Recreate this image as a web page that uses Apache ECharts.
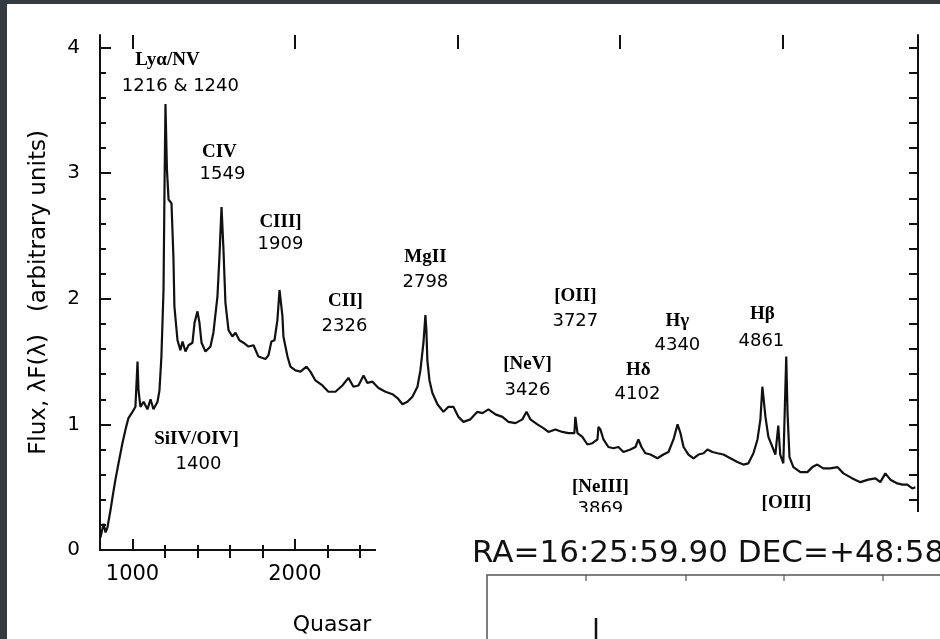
<!DOCTYPE html>
<html><head><meta charset="utf-8">
<script src="https://cdn.jsdelivr.net/npm/echarts@6/dist/echarts.min.js"></script>
<style>html,body{margin:0;padding:0;background:#fff}#c{width:940px;height:639px}</style>
</head><body><div id="c"></div>
<script>
// Quasar composite spectrum: wavelength (Angstrom) and flux (arbitrary units)
const wavelength = [803, 822, 834, 846, 865, 877, 895, 914, 938, 957,
  975, 1000, 1018, 1031, 1037, 1049, 1068, 1092, 1111, 1129,
  1154, 1166, 1178, 1191, 1197, 1203, 1212, 1222, 1240, 1252,
  1258, 1277, 1295, 1308, 1326, 1345, 1369, 1382, 1400, 1412,
  1425, 1449, 1480, 1498, 1523, 1535, 1548, 1560, 1572, 1591,
  1615, 1634, 1658, 1683, 1714, 1745, 1775, 1818, 1837, 1855,
  1874, 1892, 1905, 1923, 1929, 1954, 1972, 2003, 2034, 2071,
  2095, 2126, 2169, 2206, 2249, 2292, 2329, 2360, 2391, 2422,
  2446, 2477, 2514, 2557, 2600, 2631, 2662, 2692, 2723, 2754,
  2772, 2791, 2803, 2809, 2815, 2828, 2846, 2877, 2914, 2945,
  2975, 3006, 3037, 3080, 3123, 3154, 3191, 3234, 3277, 3314,
  3357, 3400, 3425, 3449, 3492, 3529, 3560, 3603, 3646, 3683,
  3720, 3726, 3739, 3769, 3800, 3831, 3862, 3868, 3880, 3899,
  3929, 3960, 3991, 4022, 4065, 4096, 4114, 4133, 4157, 4188,
  4231, 4268, 4299, 4330, 4355, 4373, 4392, 4422, 4453, 4484,
  4515, 4539, 4570, 4601, 4637, 4680, 4723, 4760, 4791, 4822,
  4847, 4865, 4877, 4896, 4914, 4939, 4957, 4975, 4987, 5006,
  5024, 5032, 5044, 5068, 5111, 5154, 5185, 5215, 5252, 5295,
  5339, 5376, 5431, 5480, 5529, 5573, 5603, 5634, 5665, 5708,
  5739, 5769, 5800, 5819];
const flux = [0.10, 0.21, 0.14, 0.18, 0.32, 0.42, 0.56, 0.69, 0.85, 0.96,
  1.05, 1.10, 1.14, 1.50, 1.27, 1.14, 1.18, 1.12, 1.20, 1.12,
  1.18, 1.27, 1.54, 2.07, 2.87, 3.55, 3.03, 2.79, 2.76, 2.33,
  1.94, 1.67, 1.59, 1.66, 1.58, 1.63, 1.65, 1.81, 1.90, 1.81,
  1.65, 1.58, 1.62, 1.73, 2.02, 2.33, 2.73, 2.39, 1.97, 1.75,
  1.70, 1.73, 1.67, 1.65, 1.62, 1.63, 1.54, 1.52, 1.55, 1.66,
  1.67, 1.83, 2.07, 1.86, 1.70, 1.54, 1.46, 1.43, 1.42, 1.46,
  1.42, 1.35, 1.31, 1.26, 1.26, 1.31, 1.37, 1.30, 1.31, 1.39,
  1.33, 1.34, 1.29, 1.26, 1.24, 1.21, 1.16, 1.18, 1.22, 1.30,
  1.43, 1.65, 1.87, 1.75, 1.51, 1.35, 1.25, 1.16, 1.10, 1.14,
  1.14, 1.06, 1.02, 1.04, 1.10, 1.09, 1.12, 1.08, 1.06, 1.02,
  1.01, 1.04, 1.10, 1.04, 1.00, 0.97, 0.94, 0.96, 0.94, 0.93,
  0.93, 1.06, 0.93, 0.90, 0.84, 0.85, 0.88, 0.98, 0.96, 0.88,
  0.82, 0.81, 0.82, 0.78, 0.80, 0.82, 0.88, 0.82, 0.77, 0.76,
  0.73, 0.76, 0.78, 0.88, 1.00, 0.93, 0.82, 0.76, 0.73, 0.76,
  0.77, 0.80, 0.78, 0.77, 0.76, 0.73, 0.70, 0.68, 0.69, 0.77,
  0.88, 1.04, 1.30, 1.06, 0.90, 0.82, 0.76, 0.99, 0.76, 0.69,
  1.54, 1.09, 0.74, 0.66, 0.62, 0.62, 0.66, 0.68, 0.65, 0.65,
  0.66, 0.61, 0.57, 0.54, 0.56, 0.57, 0.54, 0.61, 0.56, 0.53,
  0.52, 0.52, 0.49, 0.50];

// Tick values
const xLabelValues = [1000, 2000];
const xMajorTicks = [1000, 2000, 3000, 4000, 5000];
const xBottomMinorTicks = [1200, 1400, 1600, 1800, 2200, 2400];
const xTopMinorTicks = [1200, 1400, 1600, 1800, 2200, 2400, 2600, 2800, 3200, 3400, 3600, 3800, 4200, 4400, 4600, 4800, 5200, 5400, 5600];
const yLabelValues = [0, 1, 2, 3, 4];
const yMinorTicks = [0.2, 0.4, 0.6, 0.8, 1.2, 1.4, 1.6, 1.8, 2.2, 2.4, 2.6, 2.8, 3.2, 3.4, 3.6, 3.8];
const yRightTicks = [0.2, 0.4, 0.6, 0.8, 1.0, 1.2, 1.4, 1.6, 1.8, 2.0, 2.2, 2.4, 2.6, 2.8, 3.0, 3.2, 3.4, 3.6, 3.8, 4.0];

// Emission-line annotations: [text, kind, wavelength anchor, flux anchor]
const lineAnnotations = [
  ['Lyα/NV', 'name', 1215, 3.90], ['1216 & 1240', 'num', 1295, 3.69],
  ['CIV', 'name', 1535, 3.17], ['1549', 'num', 1554, 2.99],
  ['CIII]', 'name', 1911, 2.61], ['1909', 'num', 1911, 2.43],
  ['CII]', 'name', 2311, 1.98], ['2326', 'num', 2305, 1.78],
  ['MgII', 'name', 2803, 2.33], ['2798', 'num', 2803, 2.13],
  ['[OII]', 'name', 3726, 2.02], ['3727', 'num', 3726, 1.82],
  ['[NeV]', 'name', 3431, 1.48], ['3426', 'num', 3431, 1.27],
  ['Hδ', 'name', 4114, 1.43], ['4102', 'num', 4108, 1.24],
  ['Hγ', 'name', 4354, 1.82], ['4340', 'num', 4354, 1.63],
  ['Hβ', 'name', 4877, 1.88], ['4861', 'num', 4871, 1.66],
  ['SiIV/OIV]', 'name', 1394, 0.88], ['1400', 'num', 1406, 0.68],
  ['[NeIII]', 'name', 3880, 0.50], ['3869', 'num', 3880, 0.32],
  ['[OIII]', 'name', 5025, 0.37]
];

const ink = '#111111';
const xMin = 800, xMax = 5835, yMin = 0, yMax = 4.1;
const tickStyle = {color: ink, width: 2};

function xAx(pos, lineShow, ticks, len, labels) {
  return {
    type: 'value', min: xMin, max: xMax, position: pos,
    axisLine: {show: lineShow, lineStyle: {color: ink, width: 2}},
    splitLine: {show: false},
    axisTick: {show: true, inside: true, length: len, customValues: ticks, lineStyle: tickStyle},
    axisLabel: labels ? {show: true, customValues: labels, formatter: v => String(v), fontSize: 21, fontFamily: 'DejaVu Sans', color: '#000', margin: 14} : {show: false}
  };
}
function yAx(pos, lineShow, ticks, len, labels, extra) {
  return Object.assign({
    type: 'value', min: yMin, max: yMax, position: pos,
    axisLine: {show: lineShow, lineStyle: {color: ink, width: 2}},
    splitLine: {show: false},
    axisTick: {show: true, inside: true, length: len, customValues: ticks, lineStyle: tickStyle},
    axisLabel: labels ? {show: true, customValues: labels, formatter: v => String(v), fontSize: 20, fontFamily: 'DejaVu Sans', color: '#000', margin: 20} : {show: false}
  }, extra || {});
}

const spectrum = wavelength.map((w, i) => [w, flux[i]]);
const annoData = lineAnnotations.map(a => ({
  name: a[0], value: [a[2], a[3]],
  label: a[1] === 'name'
    ? {fontFamily: 'Liberation Serif', fontWeight: 'bold', fontSize: 19, color: '#000', opacity: 1}
    : {fontFamily: 'DejaVu Sans', fontSize: 18, color: '#000', opacity: 1}
}));

const chart = echarts.init(document.getElementById('c'), null, {renderer: 'canvas'});
chart.setOption({
  animation: false,
  backgroundColor: '#ffffff',
  grid: {left: 100, right: 22, top: 35, bottom: 89, containLabel: false},
  xAxis: [
    xAx('bottom', true, xMajorTicks, 11, xLabelValues),
    xAx('bottom', false, xBottomMinorTicks, 5, null),
    xAx('top', true, xTopMinorTicks, 8, null),
    xAx('top', false, xMajorTicks, 14, null)
  ],
  yAxis: [
    yAx('left', true, yLabelValues, 11, yLabelValues, {
      name: 'Flux, λF(λ)   (arbitrary units)', nameLocation: 'middle', nameGap: 49, nameRotate: 90,
      nameTextStyle: {fontSize: 23, fontFamily: 'DejaVu Sans', color: '#000'}
    }),
    yAx('left', false, yMinorTicks, 6, null),
    yAx('right', true, yRightTicks, 9, null)
  ],
  series: [
    {
      type: 'line', data: spectrum, xAxisIndex: 0, yAxisIndex: 0,
      symbol: 'none', smooth: false,
      lineStyle: {color: ink, width: 2.2}
    },
    {
      type: 'scatter', data: annoData, xAxisIndex: 0, yAxisIndex: 0,
      symbolSize: 1, itemStyle: {color: '#ffffff', opacity: 1},
      label: {show: true, position: 'inside', formatter: '{b}', align: 'center', verticalAlign: 'middle', color: '#000'},
      emphasis: {disabled: true},
      z: 3
    }
  ],
  graphic: {elements: [
    {type: 'rect', shape: {x: 376, y: 536, width: 100, height: 30}, style: {fill: '#fff'}, z: 100},
    {type: 'rect', shape: {x: 467, y: 512, width: 473, height: 127}, style: {fill: '#fff'}, z: 100},
    {type: 'text', x: 472, y: 554, style: {text: 'RA=16:25:59.90 DEC=+48:58', fontSize: 31, fontFamily: 'DejaVu Sans', fill: '#111', align: 'left', verticalAlign: 'middle'}, z: 101},
    {type: 'polyline', shape: {points: [[487, 639], [487, 575], [940, 575]]}, style: {stroke: '#555', lineWidth: 1.5, fill: null}, z: 101},
    {type: 'line', shape: {x1: 586, y1: 575, x2: 586, y2: 581}, style: {stroke: '#555', lineWidth: 1.2}, z: 101},
    {type: 'line', shape: {x1: 686, y1: 575, x2: 686, y2: 581}, style: {stroke: '#555', lineWidth: 1.2}, z: 101},
    {type: 'line', shape: {x1: 784, y1: 575, x2: 784, y2: 581}, style: {stroke: '#555', lineWidth: 1.2}, z: 101},
    {type: 'line', shape: {x1: 883, y1: 575, x2: 883, y2: 581}, style: {stroke: '#555', lineWidth: 1.2}, z: 101},
    {type: 'line', shape: {x1: 596, y1: 618, x2: 596, y2: 639}, style: {stroke: '#111', lineWidth: 2.5}, z: 101},
    {type: 'text', x: 332, y: 625, style: {text: 'Quasar', fontSize: 22, fontFamily: 'DejaVu Sans', fill: '#000', align: 'center', verticalAlign: 'middle'}, z: 101},
    {type: 'rect', shape: {x: 0, y: 0, width: 7, height: 639}, style: {fill: '#343c40'}, z: 200},
    {type: 'rect', shape: {x: 0, y: 0, width: 940, height: 4}, style: {fill: '#343c40'}, z: 200}
  ]}
});
</script></body></html>
